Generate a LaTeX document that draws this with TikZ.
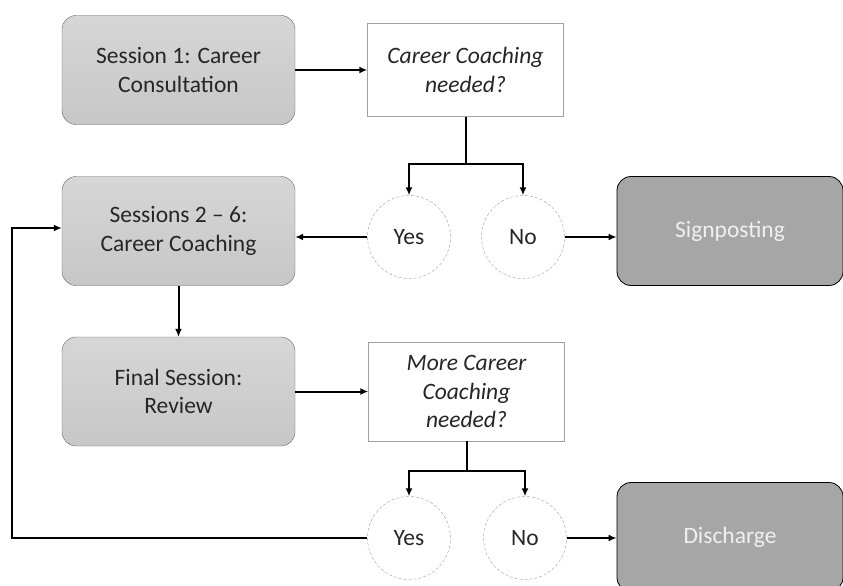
\documentclass[tikz,border=0pt]{standalone}
\usepackage{fontspec}
\setsansfont{Carlito}
\usetikzlibrary{arrows.meta}
\usetikzlibrary{calc}
\definecolor{boxgrey}{RGB}{200,200,200}
\definecolor{darkbox}{RGB}{166,166,166}
\definecolor{textgrey}{RGB}{38,38,38}
\tikzset{every picture/.style={/utils/exec={\sffamily\fontsize{23.5}{28.5}\selectfont}}}
\tikzset{
  session/.style={rounded corners=14pt, draw=gray!80!black, top color=gray!32, bottom color=gray!44,
    text=textgrey, align=center, minimum width=233pt, minimum height=109pt, inner sep=0pt},
  outcome/.style={rounded corners=14pt, draw=black, thick, fill=darkbox, text=white!94!black,
    align=center, minimum width=226pt, minimum height=109pt, inner sep=0pt},
  question/.style={draw=gray!75, thin, fill=white, font=\itshape, text=textgrey, align=center,
    minimum width=196pt, inner sep=0pt},
  answer/.style={circle, draw=gray!75, densely dashed, thin, text=textgrey, minimum size=83pt, inner sep=0pt},
  flow/.style={-{Latex[length=8pt,width=7pt]}, line width=2pt},
}

\begin{document}
\begin{tikzpicture}[x=1pt, y=-1pt]
  \clip (0,0) rectangle (843,586);

  % left column
  \node [session] (s1) at (178.5,70) {Session 1: Career\\ Consultation};
  \node [session] (s26) at (178.5,231) {Sessions 2 -- 6:\\ Career Coaching};
  \node [session] (fin) at (178.5,391.5) {Final Session:\\ Review};

  % questions
  \node [question, minimum height=93pt] (q1) at (465.5,70) {Career Coaching\\ needed?};
  \node [question, minimum height=99pt] (q2) at (466.5,391.5) {More Career\\ Coaching\\ needed?};

  % answers
  \node [answer] (yes1) at (409,237) {Yes};
  \node [answer] (no1) at (523,237) {No};
  \node [answer] (yes2) at (409,538) {Yes};
  \node [answer] (no2) at (525,538) {No};

  % end points
  \node [outcome] (sign) at (730,231) {Signposting};
  \node [outcome] (dis) at (730,537) {Discharge};

  \draw [flow] (s1) -- (q1);
  \draw [flow] (fin) -- (q2);
  \draw [flow] (s26) -- (fin);

  % forks
  \draw [line width=2pt] (q1.south) -- ++(0,47) coordinate (fork1);
  \draw [flow] (fork1) -| (yes1.north);
  \draw [flow] (fork1) -| (no1.north);
  \draw [line width=2pt] (q2.south) -- ++(0,30) coordinate (fork2);
  \draw [flow] (fork2) -| (yes2.north);
  \draw [flow] (fork2) -| (no2.north);

  \draw [flow] (yes1.west) -- (yes1.west -| s26.east);
  \draw [flow] (no1.east) -- (no1.east -| sign.west);
  \draw [flow] (no2.east) -- (no2.east -| dis.west);

  % back to coaching
  \coordinate (loop) at (12,228);
  \draw [flow] (yes2.west) -| (loop) -- (loop -| s26.west);
\end{tikzpicture}
\end{document}
